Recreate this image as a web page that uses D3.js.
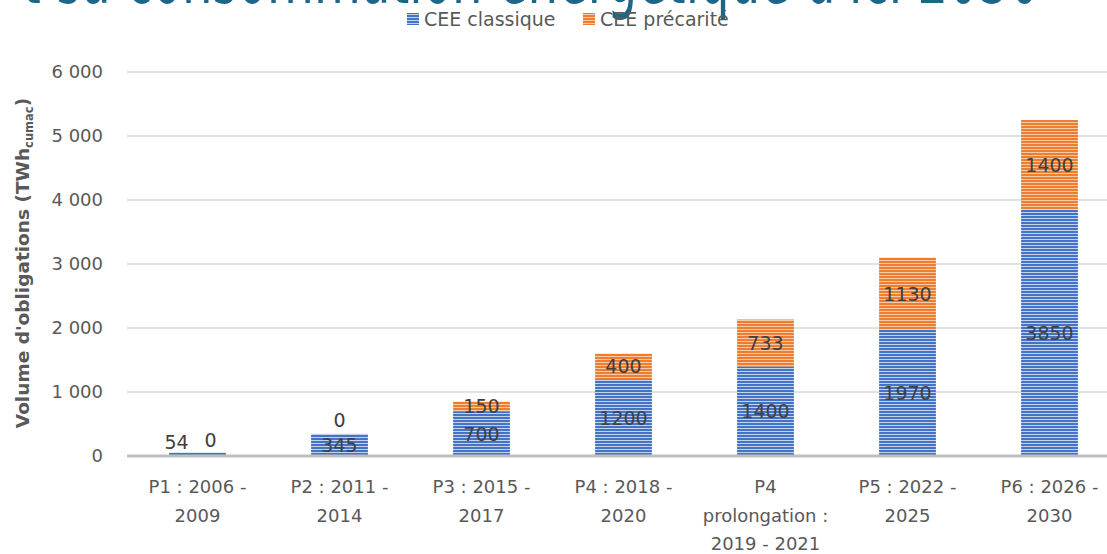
<!DOCTYPE html>
<html>
<head>
<meta charset="utf-8">
<script src="https://cdn.jsdelivr.net/npm/d3@7"></script>
<style>
  body { margin: 0; background: #fff; overflow: hidden; }
</style>
</head>
<body>
<div id="chart"></div>
<script>
// data
const periods = [
  ["P1 : 2006 -", "2009"],
  ["P2 : 2011 -", "2014"],
  ["P3 : 2015 -", "2017"],
  ["P4 : 2018 -", "2020"],
  ["P4", "prolongation :", "2019 - 2021"],
  ["P5 : 2022 -", "2025"],
  ["P6 : 2026 -", "2030"]
];
const classique = [54, 345, 700, 1200, 1400, 1970, 3850];
const precarite = [0, 0, 150, 400, 733, 1130, 1400];
const yTicks = [0, 1000, 2000, 3000, 4000, 5000, 6000];
const seriesNames = ["CEE classique", "CEE précarité"];

const W = 1107, H = 554;
const svg = d3.select("#chart").append("svg")
  .attr("width", W).attr("height", H)
  .style("display", "block");

// stripe patterns
const defs = svg.append("defs");
function stripe(id, dark, light) {
  const p = defs.append("pattern").attr("id", id)
    .attr("patternUnits", "userSpaceOnUse")
    .attr("width", 6).attr("height", 3);
  p.append("rect").attr("width", 6).attr("height", 3).attr("fill", light);
  p.append("rect").attr("width", 6).attr("height", 2).attr("fill", dark);
}
stripe("blueStripe", "#4472C4", "#c3d2ee");
stripe("orangeStripe", "#ED7D31", "#f9c9a6");
const fills = ["url(#blueStripe)", "url(#orangeStripe)"];

// title (cut off at the top)
svg.append("text")
  .attr("x", 22).attr("y", 3)
  .attr("font-family", "DejaVu Sans")
  .attr("font-size", 84)
  .attr("fill", "#1C6689")
  .attr("textLength", 1018)
  .attr("lengthAdjust", "spacingAndGlyphs")
  .text("t sa consommation énergétique d'ici 2030");

// scales
const x = d3.scaleBand()
  .domain(d3.range(periods.length))
  .range([126.5, 1120.5])
  .paddingInner(0.6)
  .paddingOuter(0.3);
const y = d3.scaleLinear().domain([0, 6000]).range([456, 72]);

// gridlines
svg.append("g").selectAll("line")
  .data(yTicks.filter(d => d > 0))
  .enter().append("line")
  .attr("x1", 127).attr("x2", W)
  .attr("y1", d => y(d)).attr("y2", d => y(d))
  .attr("stroke", "#d9d9d9").attr("stroke-width", 1.5);

// y axis labels
const fmt = d => d3.format(",")(d).replace(/,/g, " ");
const yAxis = svg.append("g")
  .attr("transform", "translate(103,0)")
  .call(d3.axisLeft(y).tickValues(yTicks).tickFormat(fmt).tickSize(0).tickPadding(0));
yAxis.select(".domain").remove();
yAxis.selectAll("text")
  .attr("font-family", "DejaVu Sans")
  .attr("font-size", 18)
  .attr("fill", "#595959");

// y axis title
const yt = svg.append("text")
  .attr("transform", "translate(29,263) rotate(-90)")
  .attr("text-anchor", "middle")
  .attr("font-family", "DejaVu Sans")
  .attr("font-weight", "bold")
  .attr("font-size", 18.5)
  .attr("fill", "#595959");
yt.append("tspan").text("Volume d'obligations (TWh");
yt.append("tspan").attr("font-size", 11.5).attr("dy", 4).text("cumac");
yt.append("tspan").attr("dy", -4).text(")");

// stacked bars
const rows = classique.map((c, i) => ({ i, c, p: precarite[i] }));
const stack = d3.stack().keys(["c", "p"])(rows);
const barG = svg.append("g");
stack.forEach((layer, k) => {
  barG.selectAll(null)
    .data(layer)
    .enter().append("rect")
    .attr("x", d => x(d.data.i))
    .attr("width", x.bandwidth())
    .attr("y", d => y(d[1]))
    .attr("height", d => y(d[0]) - y(d[1]))
    .attr("fill", fills[k]);
});

// x axis line
svg.append("line")
  .attr("x1", 127).attr("x2", W)
  .attr("y1", y(0)).attr("y2", y(0))
  .attr("stroke", "#bfbfbf").attr("stroke-width", 3);

// data labels (nudges for the tiny segments, as in the original)
const nudge = {
  "0-0": [-21, -12], "0-1": [13, -13],
  "1-1": [0, -14]
};
stack.forEach((layer, k) => {
  layer.forEach(d => {
    const key = d.data.i + "-" + k;
    const off = nudge[key] || [0, 0];
    let cy = (y(d[0]) + y(d[1])) / 2;
    if (d.data.i === 1 && k === 0) cy = 445;
    svg.append("text")
      .attr("x", x(d.data.i) + x.bandwidth() / 2 + off[0])
      .attr("y", cy + off[1])
      .attr("text-anchor", "middle")
      .attr("dominant-baseline", "central")
      .attr("font-family", "DejaVu Sans")
      .attr("font-size", 19)
      .attr("fill", "#404040")
      .text(d[1] - d[0]);
  });
});

// x labels
const xl = svg.append("g");
periods.forEach((lines, i) => {
  const t = xl.append("text")
    .attr("text-anchor", "middle")
    .attr("font-family", "DejaVu Sans")
    .attr("font-size", 18)
    .attr("fill", "#595959");
  lines.forEach((s, j) => {
    t.append("tspan")
      .attr("x", x(i) + x.bandwidth() / 2)
      .attr("y", 493 + j * 28.5)
      .text(s);
  });
});

// legend
const lg = svg.append("g");
const legX = [407, 583];
seriesNames.forEach((n, k) => {
  lg.append("rect")
    .attr("x", legX[k]).attr("y", 13)
    .attr("width", 12).attr("height", 12)
    .attr("fill", fills[k]);
  lg.append("text")
    .attr("x", legX[k] + 17).attr("y", 19)
    .attr("dominant-baseline", "central")
    .attr("font-family", "DejaVu Sans")
    .attr("font-size", 19)
    .attr("fill", "#595959")
    .text(n);
});
</script>
</body>
</html>
